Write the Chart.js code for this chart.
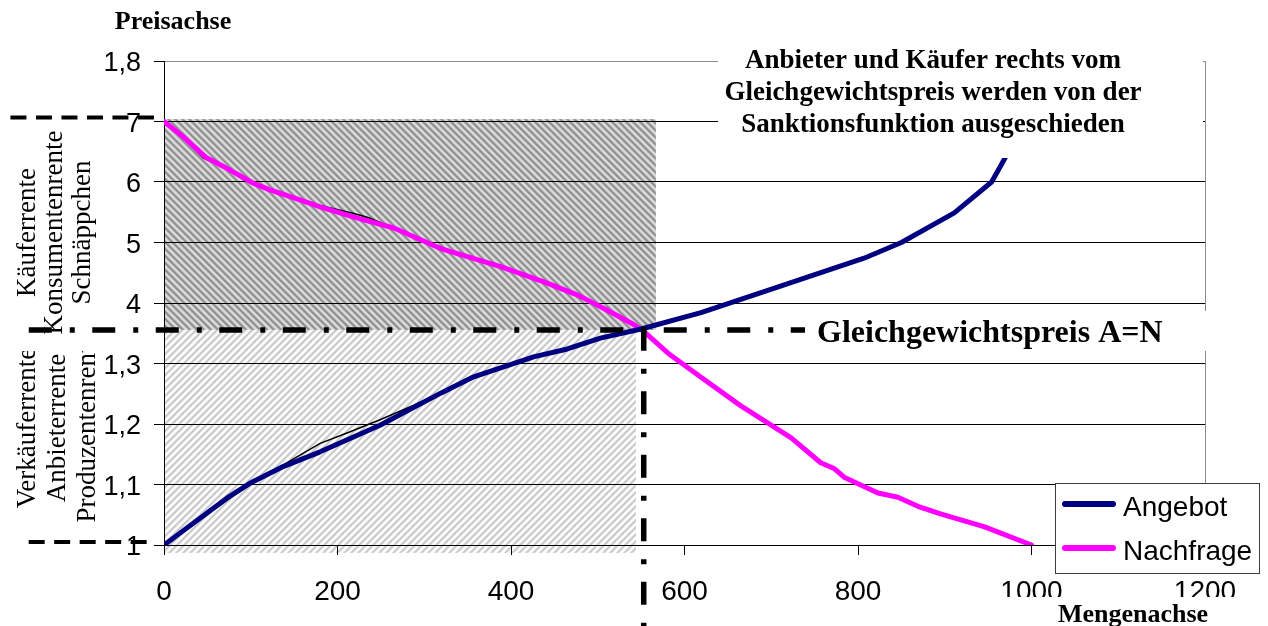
<!DOCTYPE html>
<html>
<head>
<meta charset="utf-8">
<script src="https://cdn.jsdelivr.net/npm/chart.js@4.4.1/dist/chart.umd.min.js"></script>
<style>
  html, body { margin: 0; padding: 0; background: #fff; }
  #wrap { width: 1268px; height: 626px; position: relative; }
</style>
</head>
<body>
<div id="wrap"><canvas id="markt" width="1268" height="626"></canvas></div>
<script>
// Achsen
const mengenTicks = [0, 200, 400, 600, 800, 1000, 1200];
const preisTickWerte = [1, 1.1, 1.2, 1.3, 1.4, 1.5, 1.6, 1.7, 1.8];
const preisTickLabels = ['1', '1,1', '1,2', '1,3', '4', '5', '6', '7', '1,8'];

// Angebotskurve
const angebotMenge = [0, 72, 99, 138, 180, 249, 319, 357, 426, 465, 503, 550, 619, 696, 807, 850, 911, 954, 965, 985];
const angebotPreis = [1.0, 1.077, 1.102, 1.13, 1.154, 1.198, 1.251, 1.278, 1.311, 1.324, 1.342, 1.357, 1.384, 1.421, 1.474, 1.5, 1.549, 1.6, 1.628, 1.68];

// Nachfragekurve
const nachfrageMenge = [0, 22, 49, 72, 103, 122, 149, 180, 219, 265, 319, 388, 438, 477, 511, 542, 553, 581, 623, 665, 723, 757, 773, 784, 823, 846, 869, 896, 946, 1000];
const nachfragePreis = [1.70, 1.675, 1.640, 1.623, 1.598, 1.587, 1.574, 1.559, 1.542, 1.524, 1.490, 1.460, 1.435, 1.413, 1.388, 1.364, 1.353, 1.317, 1.273, 1.230, 1.177, 1.136, 1.126, 1.112, 1.086, 1.079, 1.064, 1.051, 1.030, 1.0];

// ursprüngliche dünne Kurvenzüge unter den farbigen Linien
const skizzeNachfrageMenge = [0, 20, 45, 75, 105, 150, 180, 219, 236, 265, 320];
const skizzeNachfragePreis = [1.70, 1.676, 1.640, 1.620, 1.598, 1.575, 1.561, 1.548, 1.541, 1.524, 1.492];
const skizzeAngebotMenge = [0, 100, 138, 180, 211, 249, 288, 320];
const skizzeAngebotPreis = [1.0, 1.102, 1.133, 1.168, 1.185, 1.207, 1.231, 1.252];

// Gleichgewicht und Rentenflächen
const gleichgewichtMenge = 553;
const gleichgewichtPreis = 1.3555;
const hoechstPreis = 1.7066;
const mindestPreis = 1.005;
const konsumentenFlaeche = { von: 0, bis: 567, oben: 1.704, unten: gleichgewichtPreis };
const produzentenFlaeche = { von: 0, bis: 544, oben: gleichgewichtPreis, unten: 0.987 };

const punkte = (xs, ys) => xs.map((x, i) => ({ x, y: ys[i] }));

function streifen(ctx, profil, steigend) {
  const n = profil.length;
  const c = document.createElement('canvas');
  c.width = n; c.height = n;
  const g = c.getContext('2d');
  const img = g.createImageData(n, n);
  for (let y = 0; y < n; y++) {
    for (let x = 0; x < n; x++) {
      const k = steigend ? (x + y) % n : ((x - y) % n + n) % n;
      const v = profil[k];
      const i = (y * n + x) * 4;
      img.data[i] = v; img.data[i + 1] = v; img.data[i + 2] = v; img.data[i + 3] = 255;
    }
  }
  g.putImageData(img, 0, 0);
  return ctx.createPattern(c, 'repeat');
}

const serif = '"Liberation Serif", "Times New Roman", serif';
const sans = '"Liberation Sans", Arial, sans-serif';

function senkrechterText(ctx, zeilen, grundlinien, mitteY, clipOben) {
  ctx.save();
  if (clipOben !== undefined) {
    ctx.beginPath();
    ctx.rect(0, clipOben, 160, 626 - clipOben);
    ctx.clip();
  }
  ctx.font = '27px ' + serif;
  ctx.fillStyle = '#000';
  ctx.textAlign = 'center';
  ctx.textBaseline = 'alphabetic';
  zeilen.forEach((t, i) => {
    ctx.save();
    ctx.translate(grundlinien[i], mitteY);
    ctx.rotate(-Math.PI / 2);
    ctx.fillText(t, 0, 0);
    ctx.restore();
  });
  ctx.restore();
}

const hintergrund = {
  id: 'hintergrund',
  beforeDraw(chart) {
    const { ctx, scales: { x, y } } = chart;
    const muster = [
      [konsumentenFlaeche, streifen(ctx, [138, 150, 188, 216, 222, 204, 165], false)],
      [produzentenFlaeche, streifen(ctx, [196, 208, 236, 252, 255, 246, 218], true)]
    ];
    muster.forEach(([f, m]) => {
      const x0 = x.getPixelForValue(f.von), x1 = x.getPixelForValue(f.bis);
      const y0 = y.getPixelForValue(f.oben), y1 = y.getPixelForValue(f.unten);
      ctx.fillStyle = m;
      ctx.fillRect(x0, y0, x1 - x0, y1 - y0);
    });
    senkrechterText(ctx, ['Käuferrente', 'Konsumentenrente', 'Schnäppchen'], [35, 62, 90], 232.5);
    senkrechterText(ctx, ['Verkäuferrente', 'Anbieterrente', 'Produzentenrente'], [35, 65, 95], 428, 351);
  }
};

const vordergrund = {
  id: 'vordergrund',
  afterDraw(chart) {
    const { ctx, chartArea: a } = chart;
    ctx.save();
    // Rahmen rechts
    ctx.strokeStyle = '#8c8c8c';
    ctx.lineWidth = 1;
    ctx.beginPath();
    ctx.moveTo(Math.round(a.right) + 0.5, a.top);
    ctx.lineTo(Math.round(a.right) + 0.5, a.bottom);
    ctx.stroke();

    // Hinweis oben rechts
    ctx.fillStyle = '#fff';
    ctx.fillRect(718, 46, 485, 112);
    ctx.fillStyle = '#000';
    ctx.font = 'bold 27px ' + serif;
    ctx.textAlign = 'center';
    ctx.textBaseline = 'alphabetic';
    ctx.fillText('Anbieter und Käufer rechts vom', 933, 68);
    ctx.fillText('Gleichgewichtspreis werden von der', 933, 100);
    ctx.fillText('Sanktionsfunktion ausgeschieden', 933, 132);

    // Gleichgewichtspreis
    ctx.fillStyle = '#fff';
    ctx.fillRect(805, 311, 408, 40);
    ctx.fillStyle = '#000';
    ctx.font = 'bold 32px ' + serif;
    ctx.textAlign = 'left';
    ctx.fillText('Gleichgewichtspreis A=N', 817, 342);

    // Legende
    const eintraege = chart.data.datasets.filter(d => d.inLegende);
    ctx.fillStyle = '#fff';
    ctx.fillRect(1055, 483, 204, 90);
    ctx.strokeStyle = '#3c3c3c';
    ctx.lineWidth = 1;
    ctx.strokeRect(1055.5, 483.5, 204, 90);
    ctx.font = '28px ' + sans;
    ctx.textAlign = 'left';
    ctx.textBaseline = 'alphabetic';
    eintraege.forEach((d, i) => {
      const ly = 504 + i * 44;
      ctx.strokeStyle = d.borderColor;
      ctx.lineWidth = 6;
      ctx.lineCap = 'round';
      ctx.beginPath();
      ctx.moveTo(1065, ly);
      ctx.lineTo(1113, ly);
      ctx.stroke();
      ctx.fillStyle = '#000';
      ctx.fillText(d.label, 1123, ly + 12);
    });

    // Achsentitel
    ctx.fillStyle = '#fff';
    ctx.fillRect(995, 597, 273, 29);
    ctx.fillStyle = '#000';
    ctx.font = 'bold 26px ' + serif;
    ctx.textAlign = 'center';
    ctx.fillText('Mengenachse', 1133, 622);
    ctx.fillText('Preisachse', 173, 29);
    ctx.restore();
  }
};

const strichPunkt = [23, 18, 5, 17.5];
const strich = [16, 9.5];

new Chart(document.getElementById('markt'), {
  type: 'line',
  data: {
    datasets: [
      { label: 'Angebot', inLegende: true, data: punkte(angebotMenge, angebotPreis),
        borderColor: '#000080', borderWidth: 5, order: 1 },
      { label: 'Nachfrage', inLegende: true, data: punkte(nachfrageMenge, nachfragePreis),
        borderColor: '#ff00ff', borderWidth: 5, order: 1 },
      { label: 'skizzeN', data: punkte(skizzeNachfrageMenge, skizzeNachfragePreis),
        borderColor: '#000', borderWidth: 1.5, order: 2 },
      { label: 'skizzeA', data: punkte(skizzeAngebotMenge, skizzeAngebotPreis),
        borderColor: '#000', borderWidth: 1.5, order: 2 },
      { label: 'gleichgewichtPreis', data: [{ x: -155.9, y: gleichgewichtPreis }, { x: 760, y: gleichgewichtPreis }],
        borderColor: '#000', borderWidth: 5.5, borderDash: strichPunkt, borderCapStyle: 'butt', clip: false, order: 0 },
      { label: 'gleichgewichtMenge', data: [{ x: gleichgewichtMenge, y: 1.359 }, { x: gleichgewichtMenge, y: 0.86 }],
        borderColor: '#000', borderWidth: 5.5, borderDash: strichPunkt, borderCapStyle: 'butt', clip: false, order: 0 },
      { label: 'hoechstPreis', data: [{ x: -177, y: hoechstPreis }, { x: -3, y: hoechstPreis }],
        borderColor: '#000', borderWidth: 4, borderDash: strich, borderCapStyle: 'butt', clip: false, order: 0 },
      { label: 'mindestPreis', data: [{ x: -156, y: mindestPreis }, { x: -14, y: mindestPreis }],
        borderColor: '#000', borderWidth: 4, borderDash: strich, borderCapStyle: 'butt', clip: false, order: 0 }
    ]
  },
  options: {
    responsive: false,
    animation: false,
    events: [],
    devicePixelRatio: 1,
    layout: { padding: { left: 0, right: 63, top: 61, bottom: 0 } },
    plugins: { legend: { display: false }, tooltip: { enabled: false } },
    elements: {
      point: { radius: 0 },
      line: { tension: 0, borderCapStyle: 'round', borderJoinStyle: 'round', fill: false }
    },
    scales: {
      x: {
        type: 'linear', min: mengenTicks[0], max: mengenTicks[mengenTicks.length - 1],
        afterFit: s => { s.height = 81; },
        afterBuildTicks: s => { s.ticks = mengenTicks.map(v => ({ value: v })); },
        ticks: { color: '#000', font: { family: sans, size: 28 }, padding: 20, maxRotation: 0, autoSkip: false,
                 callback: v => String(v) },
        grid: { drawOnChartArea: false, drawTicks: true, tickLength: 10, color: '#000' },
        border: { color: '#000', width: 1 }
      },
      y: {
        type: 'linear', min: preisTickWerte[0], max: preisTickWerte[preisTickWerte.length - 1],
        afterFit: s => { s.width = 164; },
        afterBuildTicks: s => { s.ticks = preisTickWerte.map(v => ({ value: v })); },
        ticks: { color: '#000', font: { family: sans, size: 27 }, padding: 13, labelOffset: 3, autoSkip: false,
                 callback: v => {
                   const i = preisTickWerte.findIndex(t => Math.abs(t - v) < 1e-6);
                   return i >= 0 ? preisTickLabels[i] : '';
                 } },
        grid: { color: c => (c.tick && c.tick.value > 1.79 ? '#8c8c8c' : '#000'), tickColor: '#000', tickLength: 10 },
        border: { color: '#000', width: 1 }
      }
    }
  },
  plugins: [hintergrund, vordergrund]
});
</script>
</body>
</html>
